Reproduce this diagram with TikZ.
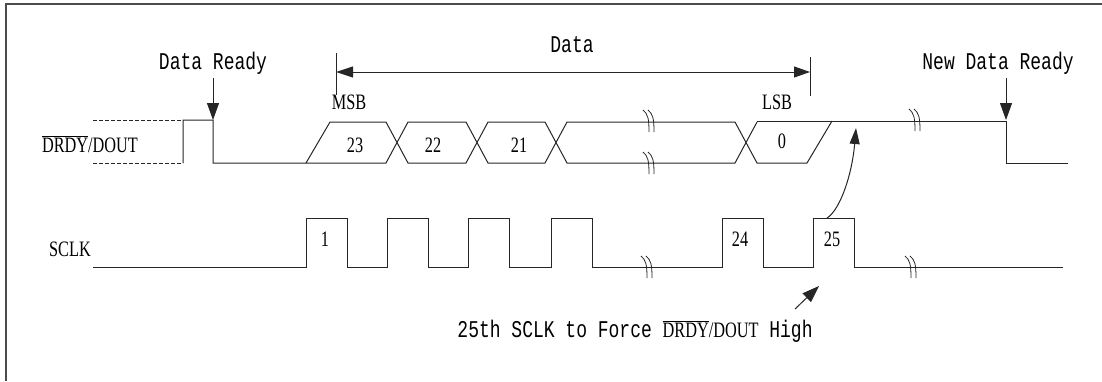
\documentclass[tikz,border=0pt]{standalone}
\usepackage{fontspec}
\setmainfont{Liberation Serif}
\newfontfamily\sigfont[FakeStretch=0.74]{Liberation Serif}
\newfontfamily\notefont[FakeStretch=0.75]{Liberation Mono}
\usetikzlibrary{arrows.meta}
\newcommand{\ovbar}[1]{$\overline{\mbox{#1}}$}
\newcommand{\doutname}{\ovbar{DRDY}/DOUT}
\newcommand{\gapmark}[2]{%
  \draw[gap] ({#1-5},{#2-11}) .. controls ({#1},{#2-7}) and ({#1+1},{#2-2}) .. ({#1+1},{#2+11});
  \draw[gap] ({#1},{#2-11}) .. controls ({#1+5},{#2-7}) and ({#1+6},{#2-2}) .. ({#1+6},{#2+11});}

\begin{document}
\begin{tikzpicture}[x=1pt,y=-1pt,
    wave/.style={line width=1pt,black!85},
    gap/.style={line width=0.8pt,black!85},
    sig/.style={font=\sigfont\fontsize{22}{24}\selectfont,anchor=base,inner sep=2pt},
    note/.style={font=\notefont\fontsize{24}{26}\selectfont,anchor=base},
    tip/.style={wave,-{Triangle[length=17pt,width=12pt]}},
    dim/.style={wave,{Triangle[length=17pt,width=11pt]}-{Triangle[length=16pt,width=11pt]}}]
    \useasboundingbox (0,0) rectangle (1102,381);
    \draw[line width=1.4pt,black!70] (6,381) -- (6,4) -- (1102,4);

    % labels
    \node[sig] (doutlab) at (90,152) {\doutname};
    \node[sig] (sclklab) at (70,256) {SCLK};
    \node[note] (rdy) at (213,69) {Data Ready};
    \node[note] (newrdy) at (998,69) {New Data Ready};
    \node[note] (data) at (572,52) {Data};
    \node[sig] (msb) at (349,109) {MSB};
    \node[sig] (lsb) at (777,109) {LSB};
    \node[sig] (b23) at (355,152) {23};
    \node[sig] (b22) at (433,152) {22};
    \node[sig] (b21) at (519,152) {21};
    \node[sig] (b0)  at (782,148) {0};
    \node[sig] (c1)  at (325,246) {1};
    \node[sig] (c24) at (740,246) {24};
    \node[sig] (c25) at (832,246) {25};
    \node[note] (force) at (635,337) {25th SCLK to Force {\sigfont\fontsize{22}{24}\selectfont\doutname} High};

    % DRDY/DOUT
    \draw[wave,dash pattern=on 4pt off 2pt] (93,120) -- (183,120);
    \draw[wave,dash pattern=on 4pt off 2pt] (93,163) -- (183,163);
    \draw[wave] (183,163) -- (183,120) -- (213,120) -- (213,163) -- (306,163)
        -- (330,122) -- (386,122) -- (408,163) -- (466,163) -- (488,122) -- (545,122)
        -- (567,163) -- (735,163) -- (757,122);
    \draw[wave] (306,163) -- (386,163) -- (408,122) -- (466,122) -- (488,163) -- (545,163)
        -- (567,122) -- (735,122) -- (757,163) -- (807,163) -- (832,121);
    \draw[wave] (757,121) -- (1006,121) -- (1006,163) -- (1068,163);
    \gapmark{648}{121}
    \gapmark{648}{163}
    \gapmark{914}{120}

    % SCLK
    \draw[wave] (93,267) -- (306,267) -- (306,218) -- (347,218) -- (347,267)
        -- (387,267) -- (387,218) -- (428,218) -- (428,267)
        -- (468,267) -- (468,218) -- (509,218) -- (509,267)
        -- (551,267) -- (551,218) -- (592,218) -- (592,267)
        -- (722,267) -- (722,218) -- (763,218) -- (763,267)
        -- (813,267) -- (813,218) -- (854,218) -- (854,267) -- (1063,267);
    \gapmark{646}{267}
    \gapmark{910}{267}

    % markers
    \coordinate (rdytip) at (213,120);
    \coordinate (newtip) at (1006,120);
    \draw[tip] (rdy.south) -- (rdytip);
    \draw[tip] (1006,78) -- (newtip);

    \coordinate (msbend) at (336,72);
    \coordinate (lsbend) at (810,72);
    \draw[wave] (336,53) -- (336,95);
    \draw[wave] (810,57) -- (810,96);
    \draw[dim] (msbend) -- (lsbend);

    \coordinate (p25) at (827,218);
    \coordinate (hitip) at (856,128);
    \draw[wave,-{Triangle[length=16pt,width=10pt]}] (p25) .. controls (840,210) and (852,175) .. (hitip);

    \coordinate (ntail) at (795,309);
    \coordinate (ntip) at (819,286);
    \draw[wave,-{Triangle[length=17pt,width=12pt]}] (ntail) -- (ntip);
\end{tikzpicture}
\end{document}
